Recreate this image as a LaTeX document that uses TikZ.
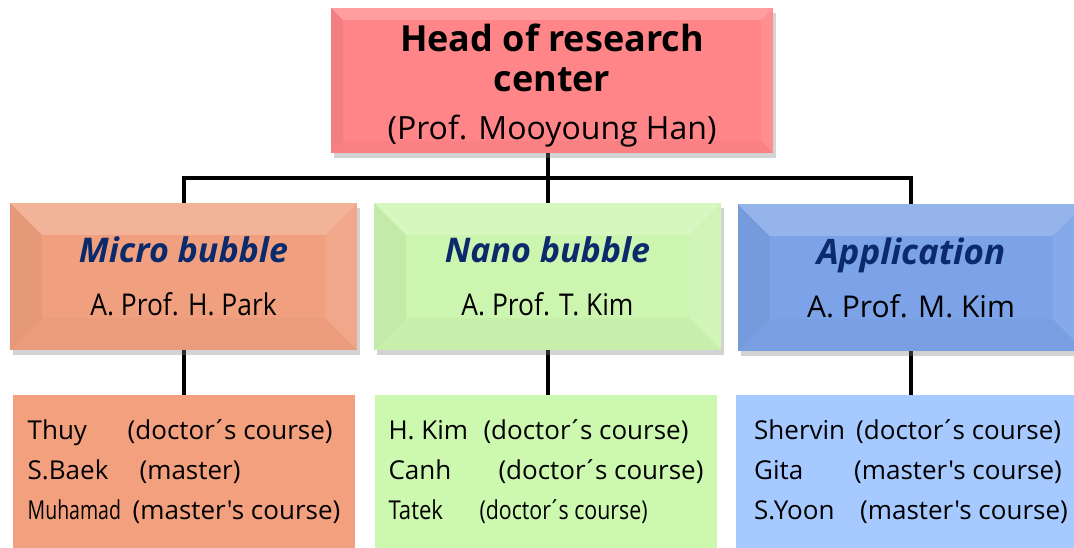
\documentclass[tikz,border=0pt]{standalone}
\usepackage{fontspec}
\setmainfont{Open Sans}[Ligatures=TeXOff]
\usepackage{graphicx}
\usepackage{tikz}
\usetikzlibrary{shadows,backgrounds}

\definecolor{navy}{HTML}{0B2A6B}
\newcommand{\titlefont}{\fontsize{34}{53}\selectfont\bfseries\itshape\color{navy}}
\newcommand{\acu}{\kern-.12em´\kern-.1em}

\begin{document}
\begin{tikzpicture}[
  x=1pt, y=-1pt,
  bevel/.style={path picture={
    \path (path picture bounding box.north west) coordinate (bnw)
          (path picture bounding box.north east) coordinate (bne)
          (path picture bounding box.south west) coordinate (bsw)
          (path picture bounding box.south east) coordinate (bse);
    \path ([shift={(#1,-#1)}]bnw) coordinate (inw)
          ([shift={(-#1,-#1)}]bne) coordinate (ine)
          ([shift={(#1,#1)}]bsw) coordinate (isw)
          ([shift={(-#1,#1)}]bse) coordinate (ise);
    \fill[white,opacity=.2] (bnw) -- (bne) -- (ine) -- (inw) -- cycle;
    \fill[black,opacity=.045] (bnw) -- (inw) -- (isw) -- (bsw) -- cycle;
    \fill[white,opacity=.08] (bne) -- (bse) -- (ise) -- (ine) -- cycle;
    \fill[black,opacity=.025] (bsw) -- (isw) -- (ise) -- (bse) -- cycle;
  }},
  bevel/.default=32pt,
  unit/.style={rectangle, minimum width=347pt, minimum height=147pt, align=center,
    font=\fontsize{30}{53}\selectfont,
    drop shadow={shadow xshift=3pt, shadow yshift=-5pt, opacity=.35}, bevel},
  members/.style={rectangle, minimum width=342pt, minimum height=153pt, align=left,
    font=\fontsize{26}{40}\selectfont},
  link/.style={line width=4pt},
]
%-------------------------------------------------------------
\definecolor{colHead}{HTML}{FF8588}
\definecolor{colMicro}{HTML}{F0A07F}
\definecolor{colNano}{HTML}{CCF5B0}
\definecolor{colApp}{HTML}{7CA2E8}
\definecolor{colMicroL}{HTML}{F3A07F}
\definecolor{colNanoL}{HTML}{CCF8B0}
\definecolor{colAppL}{HTML}{A6C9FF}

\useasboundingbox (0,0) rectangle (1074,548);
\clip (0,0) rectangle (1074,548);

%============================================================
\node[unit, fill=colHead, minimum width=442pt, minimum height=145pt, bevel=12pt,
  font=\fontsize{36}{40}\selectfont\bfseries] (head) at (552,80.5)
  {\rule{0pt}{37pt}Head of research\\ center\\[8pt]
   {\mdseries\fontsize{32}{40}\selectfont (Prof. Mooyoung Han)}};
%============================================================
\node[unit, fill=colMicro] (micro) at (183.5,276.5)
  {{\titlefont Micro bubble}\\ \scalebox{0.88}[1]{A. Prof. H. Park}};
\node[unit, fill=colNano] (nano) at (547.5,276.5)
  {{\titlefont Nano bubble}\\ \scalebox{0.88}[1]{A. Prof. T. Kim}};
\node[unit, fill=colApp] (app) at (911,277.5)
  {{\titlefont\fontsize{35}{53}\selectfont Application}\\ A. Prof. M. Kim};
%============================================================
\node[members, fill=colMicroL] (microL) at (184,471.5)
  {\makebox[100pt][l]{Thuy}(doctor\acu s course)\\
   \makebox[112pt][l]{S.Baek}(master)\\
   \makebox[105pt][l]{\scalebox{0.75}[1]{Muhamad}}(master's course)};
\node[members, fill=colNanoL] (nanoL) at (546,471.5)
  {\makebox[95pt][l]{H. Kim}(doctor\acu s course)\\
   \makebox[110pt][l]{Canh}(doctor\acu s course)\\
   \makebox[91pt][l]{\scalebox{0.85}[1]{Tatek}}\scalebox{0.82}[1]{(doctor\acu s course)}};
\node[members, fill=colAppL, minimum width=350pt] (appL) at (911,471.5)
  {\makebox[102pt][l]{Shervin}(doctor\acu s course)\\
   \makebox[100pt][l]{Gita}(master's course)\\
   \makebox[106pt][l]{S.Yoon}(master's course)};
%============================================================
\coordinate (bus) at (0,178);

\begin{pgfonlayer}{background}
  \draw[link] (micro.north) |- (bus -| app.north) -- (app.north);
  \draw[link] (head.south -| nano.north) -- (nano.north);

  \draw[link] (micro.south) -- (micro.south |- microL.north);
  \draw[link] (nano.south) -- (nano.south |- nanoL.north);
  \draw[link] (app.south) -- (app.south |- appL.north);
\end{pgfonlayer}

\end{tikzpicture}
\end{document}
